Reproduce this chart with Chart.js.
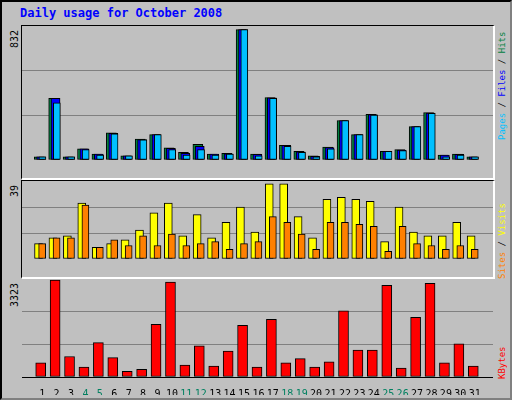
<!DOCTYPE html>
<html>
<head>
<meta charset="utf-8">
<script src="https://cdn.jsdelivr.net/npm/chart.js@4/dist/chart.umd.min.js"></script>
<style>
  body { margin: 0; background: #fff; }
  #frame { position: absolute; left: 0; top: 0; width: 508px; height: 396px; background: #c0c0c0;
           border: 2px solid #000; border-right-color: #808080; border-bottom-color: #808080; }
  .panel { position: absolute; left: 19px; width: 471px; border-top: 1px solid #000; border-left: 1px solid #000;
           border-right: 2px solid #fff; border-bottom: 2px solid #fff; box-sizing: content-box; }
  .txt { position: absolute; font-family: "DejaVu Sans Mono", monospace; font-size: 10px; white-space: nowrap; }
  .rot { transform-origin: 0 0; transform: rotate(-90deg); }
  .leg { font-size: 9px; }
</style>
</head>
<body>
<div id="frame">
  <div class="txt" style="left:18px;top:4px;color:#0000ff;font-weight:bold;font-size:12px;">Daily usage for October 2008</div>

  <div class="panel" style="top:23px;height:152px;"><canvas id="c1"></canvas></div>
  <div class="panel" style="top:178px;height:96px;"><canvas id="c2"></canvas></div>
  <div id="p3" style="position:absolute;left:20px;top:277px;width:471px;height:116px;"><canvas id="c3"></canvas></div>

  <div class="txt rot" style="left:7px;top:46px;">832</div>
  <div class="txt rot" style="left:7px;top:195px;">39</div>
  <div class="txt rot" style="left:7px;top:305px;">3323</div>

  <div class="txt rot leg" style="left:495px;top:138px;"><span style="color:#00c0ff">Pages</span> / <span style="color:#0000ff">Files</span> / <span style="color:#008040">Hits</span></div>
  <div class="txt rot leg" style="left:495px;top:277px;"><span style="color:#ff8000">Sites</span> / <span style="color:#ffff00">Visits</span></div>
  <div class="txt rot leg" style="left:495px;top:377px;color:#ff0000">KBytes</div>
</div>
<script>
const days = Array.from({ length: 31 }, (_, i) => i + 1);
const weekendDays = [4, 5, 11, 12, 18, 19, 25, 26];

const hits  = [21, 393, 21, 72, 38, 173, 26, 134, 162, 77, 49, 100, 38, 43, 832, 38, 399, 94, 55, 26, 83, 252, 162, 292, 55, 66, 213, 303, 32, 38, 21];
const files = [21, 393, 21, 72, 38, 170, 26, 130, 162, 75, 43, 87, 38, 40, 832, 36, 396, 94, 52, 24, 80, 252, 162, 290, 55, 64, 213, 300, 32, 36, 21];
const pages = [21, 365, 21, 66, 32, 167, 26, 128, 162, 66, 32, 66, 32, 38, 832, 26, 393, 88, 49, 21, 72, 252, 162, 286, 55, 60, 213, 297, 21, 32, 21];

const visits = [8, 11, 12, 29, 6, 8, 10, 15, 24, 29, 12, 23, 11, 19, 27, 14, 39, 39, 22, 11, 31, 32, 31, 30, 9, 27, 14, 12, 12, 19, 12];
const sites  = [8, 11, 11, 28, 6, 10, 7, 12, 7, 13, 7, 8, 9, 5, 8, 9, 22, 19, 13, 5, 19, 19, 18, 17, 4, 17, 8, 7, 5, 7, 5];

const kbytes = [485, 3323, 703, 340, 1177, 667, 194, 267, 1807, 3251, 412, 1067, 376, 885, 1771, 340, 1977, 485, 631, 340, 522, 2268, 922, 922, 3141, 303, 2050, 3214, 485, 1140, 376];

const X_MIN = 0.13, X_MAX = 31.74;

// order: higher numbers are drawn first (further back)
function series(values, offset, color, width, order) {
  return {
    data: values.map((v, i) => ({ x: days[i] + offset, y: v })),
    backgroundColor: color,
    borderColor: '#000',
    borderWidth: 1,
    borderSkipped: false,
    barThickness: width,
    grouped: false,
    order: order
  };
}

function options(yMax, showX) {
  return {
    responsive: true,
    maintainAspectRatio: false,
    animation: false,
    layout: { padding: 0 },
    plugins: { legend: { display: false }, tooltip: { enabled: false } },
    scales: {
      x: {
        type: 'linear', min: X_MIN, max: X_MAX, display: showX,
        grid: { display: false }, border: { display: true, color: '#000', width: 1 },
        afterBuildTicks: axis => { axis.ticks = days.map(d => ({ value: d })); },
        afterFit: axis => { axis.height = 18; },
        ticks: {
          autoSkip: false, maxRotation: 0, padding: 3,
          font: { family: 'DejaVu Sans Mono', size: 10 },
          color: ctx => weekendDays.includes(ctx.tick.value) ? '#008060' : '#000',
          callback: v => String(v)
        }
      },
      y: {
        min: 0, max: yMax, display: true,
        ticks: { display: false, stepSize: yMax / 3 },
        border: { display: false },
        grid: {
          drawTicks: false,
          color: ctx => (ctx.tick.value > 0 && ctx.tick.value < yMax - 1) ? '#808080' : 'rgba(0,0,0,0)'
        },
        afterFit: axis => { axis.width = 0; }
      }
    }
  };
}

new Chart(document.getElementById('c1'), {
  type: 'bar',
  data: { datasets: [
    series(hits, -0.2, '#008040', 10, 3),
    series(files, -0.07, '#0000ff', 9, 2),
    series(pages, 0.02, '#00c0ff', 7, 1)
  ] },
  options: options(855, false)
});

new Chart(document.getElementById('c2'), {
  type: 'bar',
  data: { datasets: [
    series(visits, -0.25, '#ffff00', 8, 2),
    series(sites, 0, '#ff8000', 7, 1)
  ] },
  options: options(40.5, false)
});

new Chart(document.getElementById('c3'), {
  type: 'bar',
  data: { datasets: [series(kbytes, -0.1, '#ff0000', 10, 1)] },
  options: options(3360, true)
});
</script>
</body>
</html>
